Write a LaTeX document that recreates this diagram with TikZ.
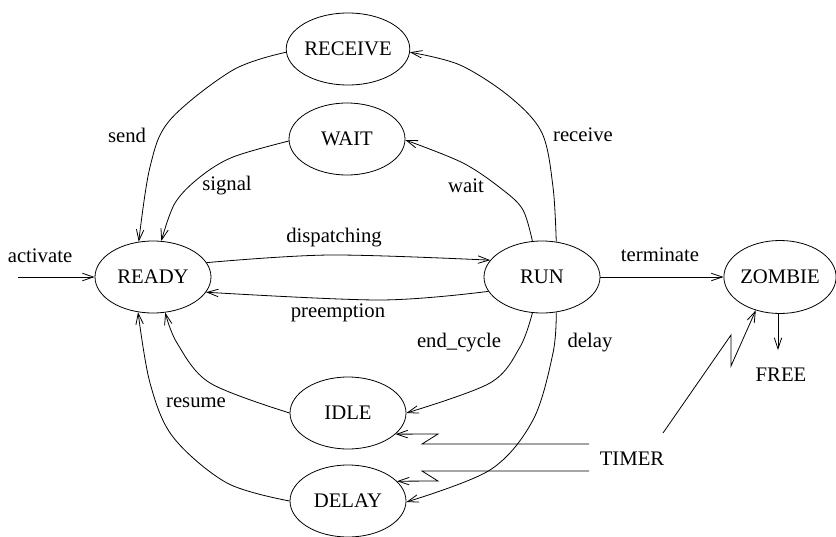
\documentclass[tikz,border=0pt]{standalone}
\usepackage{fontspec}
\setmainfont{Liberation Serif}
\usetikzlibrary{arrows.meta,shapes.geometric}
\begin{document}
\begin{tikzpicture}[x=1pt,y=-1pt,
  every node/.style={font=\fontsize{20.7}{24}\selectfont},
  state/.style={draw, ellipse, line width=0.8pt, minimum width=116pt, minimum height=72pt, inner sep=0pt},
  lbl/.style={inner sep=0pt},
  conn/.style={line width=0.8pt},
  arr/.style={conn, -{Straight Barb[length=11pt,width=7.5pt,line width=0.8pt]}},
  sm/.style={smooth, tension=0.55}]
\useasboundingbox (0,0) rectangle (836,536);
% states
\node[state] (RECEIVE) at (348,49) {RECEIVE};
\node[state] (WAIT) at (347,139) {WAIT};
\node[state] (READY) at (153,277) {READY};
\node[state] (RUN) at (542,277) {RUN};
\node[state, minimum width=110pt, minimum height=73pt] (ZOMBIE) at (780,277) {ZOMBIE};
\node[state] (IDLE) at (348,413) {IDLE};
\node[state] (DELAY) at (348,501) {DELAY};
% plain texts
\node[lbl] (FREE) at (781,375) {FREE};
\node[lbl] (TIMER) at (632,459) {TIMER};
% labels
\node[lbl] (lsend) at (127,135) {send};
\node[lbl] (lreceive) at (583,135) {receive};
\node[lbl] (lsignal) at (227,186) {signal};
\node[lbl] (lwait) at (466,186) {wait};
\node[lbl] (ldisp) at (334,238) {dispatching};
\node[lbl] (lpre) at (338,313) {preemption};
\node[lbl] (lterm) at (660,255) {terminate};
\node[lbl] (lend) at (459,343) {end\_cycle};
\node[lbl] (ldelay) at (590,343) {delay};
\node[lbl] (lresume) at (196,403) {resume};
\node[lbl] (lact) at (40,256) {activate};
% free coordinates
\coordinate (actstart) at (18,277);
\coordinate (freeend) at (778,350);
\coordinate (t1) at (589,444);
\coordinate (t2) at (589,471);
\coordinate (t3) at (663,433);
% connectors
\draw[arr] (actstart) -- (READY.west);
\draw[arr] plot[sm] coordinates {(RECEIVE.183) (233,70) (170,120) (150,167) (READY.112.6)};
\draw[arr] plot[sm] coordinates {(WAIT.182) (233,157) (200,177) (175,203) (READY.77.5)};
\draw[arr] plot[sm] coordinates {(RUN.68) (553,187) (542,133) (510,97) (460,65) (RECEIVE.357)};
\draw[arr] plot[sm] coordinates {(RUN.105) (523,210) (503,190) (463,163) (WAIT.359)};
\draw[arr] plot[sm] coordinates {(READY.15.5) (330,255) (RUN.162)};
\draw[arr] plot[sm] coordinates {(RUN.195.5) (380,300) (READY.344.5)};
\draw[arr] plot[sm] coordinates {(RUN.255) (520,347) (490,383) (IDLE.0)};
\draw[arr] plot[sm] coordinates {(RUN.292) (553,353) (533,420) (490,470) (DELAY.359)};
\draw[arr] plot[sm] coordinates {(DELAY.180) (227,483) (173,437) (150,383) (READY.247.4)};
\draw[arr] plot[sm] coordinates {(IDLE.180) (210,383) (177,343) (READY.289.9)};
\draw[arr] (RUN.east) -- (ZOMBIE.west);
\draw[arr] (778,313) -- (freeend);
\draw[arr] (t1) -- (422,444) -- (438,434) -- (IDLE.336);
\draw[arr] (t2) -- (422,471) -- (438,481) -- (DELAY.22.6);
\draw[arr] (t3) -- (731,335) -- (731,366) -- (ZOMBIE.234.3);
\end{tikzpicture}
\end{document}
